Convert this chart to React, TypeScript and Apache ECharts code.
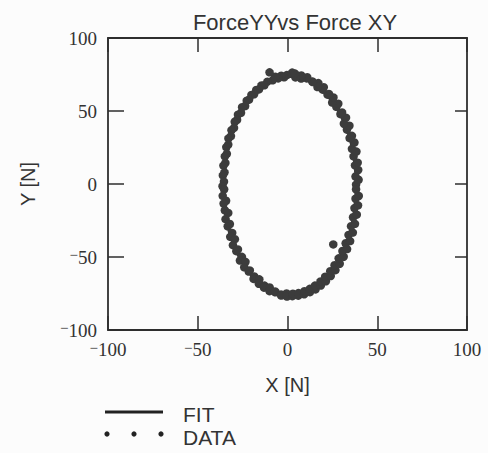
import React, { useEffect, useRef } from "react";
import * as echarts from "echarts";

// Axis ranges and ticks (both axes share the same span)
const axisMin = -100;
const axisMax = 100;
const tickStep = 50;

// Fitted ellipse: centre (x, y) and semi-axes (rx, ry), in newtons
const fitEllipse = [1.5, -1.0, 37.0, 75.0];

// Measured force samples, X [N]
const dataX = [
  38.2, 39.6, 37.9, 39.4, 37.6, 39.1, 36.8, 38.4, 35.9, 37.3, 34.6, 35.9, 33.1, 34.5, 31.4, 32.6, 29.5, 30.4,
  27.2, 28.3, 24.9, 25.6, 22.3, 23.1, 19.6, 20.2, 16.7, 17.2, 13.8, 14.1, 10.7, 11.0, 7.6, 7.7, 4.4, 4.2,
  2.6, -0.4, -1.9, -3.5, -5.2, -6.8, -8.3, -10.0, -11.2, -12.9, -14.5, -15.9, -17.4, -18.6, -20.1, -21.4, -22.7, -23.6,
  -25.3, -25.9, -27.6, -28.1, -29.4, -29.8, -31.2, -31.5, -32.9, -33.0, -34.1, -33.8, -34.9, -34.6, -35.7, -35.1, -36.0, -35.4,
  -36.2, -35.3, -36.1, -34.2, -35.6, -34.9, -33.0, -34.5, -32.1, -33.3, -30.8, -31.9, -29.3, -30.4, -27.6, -28.5, -25.4, -26.5,
  -23.4, -24.1, -21.0, -21.6, -18.5, -18.9, -15.7, -16.0, -12.8, -13.1, -9.9, -10.0, -6.8, -6.9, -3.6, -3.5, -0.5, -0.3,
  2.7, 3.0, 6.0, 6.1, 9.3, 9.4, 12.5, 12.4, 15.6, 15.3, 18.6, 18.4, 21.4, 21.0, 24.1, 23.8, 26.7, 26.2,
  29.1, 28.5, 31.3, 30.6, 33.2, 32.4, 34.9, 34.0, 36.4, 35.4, 37.6, 36.5, 38.6, 37.3, 39.3, 37.9, 39.7, 38.2,
  25.5,
];

// Measured force samples, Y [N]
const dataY = [
  -0.4, 2.9, 5.1, 9.6, 12.8, 14.6, 18.9, 22.2, 24.1, 28.4, 31.5, 33.0, 37.2, 39.9, 41.3, 45.4, 47.9, 49.0,
  52.9, 55.0, 55.8, 59.3, 61.2, 61.7, 64.6, 66.3, 66.4, 69.1, 70.2, 69.9, 72.3, 73.1, 72.2, 74.3, 73.0, 75.6,
  76.3, 74.6, 73.1, 74.2, 72.3, 73.5, 71.0, 76.5, 70.1, 67.6, 67.5, 64.8, 64.4, 61.5, 61.0, 57.8, 57.1, 53.4,
  52.6, 48.8, 47.5, 43.9, 42.6, 38.4, 36.9, 32.8, 31.2, 27.0, 25.3, 20.7, 18.9, 14.4, 12.6, 8.0, 5.9, 1.6,
  -1.5, -3.6, -8.1, -11.5, -13.4, -18.0, -19.8, -24.1, -27.4, -29.0, -33.5, -36.2, -37.8, -41.9, -44.8, -46.0, -49.9, -52.4,
  -53.3, -57.1, -59.2, -60.0, -63.3, -65.0, -65.3, -68.3, -69.6, -71.0, -70.9, -73.4, -74.2, -73.6, -75.7, -76.4, -75.0, -77.1,
  -76.8, -75.2, -76.5, -74.7, -75.5, -73.4, -74.1, -71.8, -72.2, -69.6, -69.5, -66.7, -66.6, -63.5, -63.0, -59.7, -59.0, -55.6,
  -54.6, -50.9, -49.8, -45.9, -44.6, -40.6, -39.1, -34.9, -33.3, -28.9, -27.3, -22.8, -21.0, -16.5, -14.6, -10.1, -8.2, -3.6,
  -41.4,
];

const titleText = "ForceYYvs Force XY";
const xName = "X [N]";
const yName = "Y [N]";
const legendNames = ["FIT", "DATA"];

const ink = "#2e2e2e";
const sans = "'Liberation Sans', Arial, sans-serif";
const serif = "'Liberation Serif', 'Times New Roman', serif";

const tickLabel = (v: number) =>
  v < 0 ? `{m|\u2212}{n|${Math.abs(v)}}` : `{n|${v}}`;

const labelRich = {
  n: { fontFamily: serif, fontSize: 19, color: "#333" },
  m: { fontFamily: serif, fontSize: 15, color: "#333", verticalAlign: "top" },
};

const frameLine = { show: true, onZero: false, lineStyle: { color: ink, width: 1.8 } };
const innerTick = { show: true, inside: true, length: 14, lineStyle: { color: ink, width: 1.5 } };

export default function App() {
  const ref = useRef<HTMLDivElement>(null);

  useEffect(() => {
    if (!ref.current) return;
    const chart = echarts.init(ref.current, undefined, { renderer: "svg" });
    const points = dataX.map((x, i) => [x, dataY[i]]);

    chart.setOption({
      animation: false,
      backgroundColor: "#fcfcfc",
      title: {
        text: titleText,
        left: 290,
        top: 6,
        textAlign: "center",
        textStyle: { fontFamily: sans, fontSize: 22, fontWeight: "normal", color: "#333" },
      },
      grid: { left: 108, right: 21, top: 38, bottom: 123 },
      xAxis: [
        {
          type: "value",
          min: axisMin,
          max: axisMax,
          interval: tickStep,
          position: "bottom",
          axisLine: frameLine,
          axisTick: innerTick,
          splitLine: { show: false },
          axisLabel: { margin: 10, formatter: tickLabel, rich: labelRich },
          name: xName,
          nameLocation: "middle",
          nameGap: 45,
          nameTextStyle: { fontFamily: sans, fontSize: 20, color: "#333" },
        },
        {
          type: "value",
          min: axisMin,
          max: axisMax,
          interval: tickStep,
          position: "top",
          axisLine: frameLine,
          axisTick: innerTick,
          splitLine: { show: false },
          axisLabel: { show: false },
        },
      ],
      yAxis: [
        {
          type: "value",
          min: axisMin,
          max: axisMax,
          interval: tickStep,
          position: "left",
          axisLine: frameLine,
          axisTick: { ...innerTick, length: 16 },
          splitLine: { show: false },
          axisLabel: { margin: 11, formatter: tickLabel, rich: labelRich },
          name: yName,
          nameLocation: "middle",
          nameRotate: 90,
          nameGap: 70,
          nameTextStyle: { fontFamily: sans, fontSize: 20, color: "#333" },
        },
        {
          type: "value",
          min: axisMin,
          max: axisMax,
          interval: tickStep,
          position: "right",
          axisLine: frameLine,
          axisTick: { ...innerTick, length: 12 },
          splitLine: { show: false },
          axisLabel: { show: false },
        },
      ],
      series: [
        {
          name: legendNames[0],
          type: "custom",
          xAxisIndex: 0,
          yAxisIndex: 0,
          encode: { x: 0, y: 1 },
          data: [fitEllipse],
          renderItem: (_params: any, api: any) => {
            const c = api.coord([api.value(0), api.value(1)]);
            const s = api.size([api.value(2), api.value(3)]);
            return {
              type: "ellipse",
              shape: { cx: c[0], cy: c[1], rx: s[0], ry: s[1] },
              style: { fill: "none", stroke: "#3a3a3a", lineWidth: 4 },
            };
          },
          z: 2,
        },
        {
          name: legendNames[1],
          type: "scatter",
          xAxisIndex: 0,
          yAxisIndex: 0,
          data: points,
          symbol: "circle",
          symbolSize: 8.5,
          itemStyle: { color: "#3c3c3c", opacity: 1 },
          z: 3,
        },
      ],
      graphic: [
        {
          type: "line",
          shape: { x1: 105, y1: 412, x2: 163, y2: 412 },
          style: { stroke: "#222", lineWidth: 3 },
        },
        { type: "circle", shape: { cx: 107, cy: 434, r: 2.6 }, style: { fill: "#222" } },
        { type: "circle", shape: { cx: 134, cy: 434, r: 2.6 }, style: { fill: "#222" } },
        { type: "circle", shape: { cx: 161, cy: 434, r: 2.6 }, style: { fill: "#222" } },
        {
          type: "text",
          left: 183,
          top: 404,
          style: { text: legendNames[0], font: `21px ${sans}`, fill: "#333" },
        },
        {
          type: "text",
          left: 183,
          top: 427,
          style: { text: legendNames[1], font: `21px ${sans}`, fill: "#333" },
        },
      ],
    });

    return () => chart.dispose();
  }, []);

  return (
    <div
      ref={ref}
      style={{ position: "fixed", left: 0, top: 0, width: 488, height: 453 }}
    />
  );
}
